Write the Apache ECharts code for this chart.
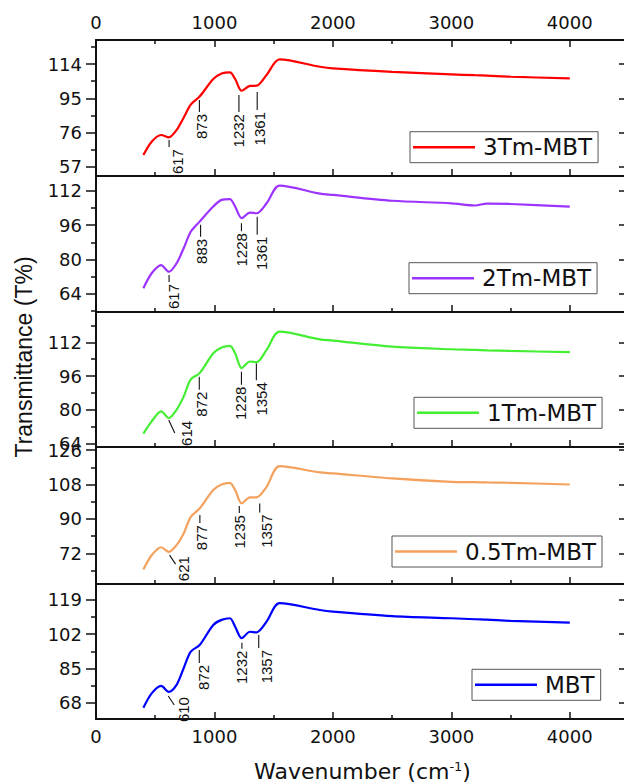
<!DOCTYPE html>
<html>
<head>
<meta charset="utf-8">
<script src="https://cdn.jsdelivr.net/npm/echarts@6/dist/echarts.min.js"></script>
<style>
  html, body { margin: 0; padding: 0; background: #fff; }
  #chart { width: 624px; height: 783px; }
</style>
</head>
<body>
<div id="chart"></div>
<script>
// wavenumber (cm-1) shared by every spectrum
const wavenumber = [400, 470, 550, 615, 680, 740, 800, 875, 990, 1060, 1130, 1175, 1230, 1300, 1356, 1440, 1550, 1890, 2000, 2500, 3000, 3200, 3300, 3500, 4000]

// transmittance (T%), top panel first
const t3Tm = [63.6, 71.0, 74.7, 73.4, 77.4, 84.3, 91.5, 96.0, 105.7, 108.8, 109.4, 105.7, 99.2, 101.9, 102.0, 107.9, 116.6, 112.5, 111.6, 109.7, 108.3, 107.8, 107.6, 107.0, 106.0]
const t2Tm = [66.6, 73.6, 77.4, 74.3, 78.2, 85.2, 92.9, 97.6, 104.6, 107.7, 108.1, 104.6, 99.2, 101.8, 101.5, 106.1, 114.3, 110.6, 110.0, 107.3, 106.1, 105.1, 106.0, 105.8, 104.6]
const t1Tm = [68.8, 74.6, 79.3, 76.2, 80.1, 86.3, 94.5, 97.4, 106.8, 109.5, 110.3, 106.8, 99.8, 102.9, 102.6, 108.4, 117.0, 113.4, 112.8, 109.9, 108.7, 108.4, 108.2, 107.9, 107.3]
const t05Tm = [63.6, 71.0, 75.2, 72.8, 76.3, 82.4, 91.1, 95.5, 105.1, 108.0, 108.9, 105.1, 98.1, 101.3, 101.3, 106.8, 117.6, 114.3, 113.8, 111.2, 109.4, 109.2, 109.1, 108.9, 108.0]
const tMBT = [65.5, 72.6, 76.3, 73.4, 76.8, 85.1, 93.3, 96.6, 106.6, 109.1, 109.9, 105.7, 100.0, 103.2, 102.9, 108.2, 117.4, 114.0, 113.2, 111.0, 109.9, 109.4, 109.2, 108.6, 107.7]

const names = ['3Tm-MBT', '2Tm-MBT', '1Tm-MBT', '0.5Tm-MBT', 'MBT']
const values = [t3Tm, t2Tm, t1Tm, t05Tm, tMBT]

// tick labels
const xTicks = [0, 1000, 2000, 3000, 4000]
const yTicks = [
  [57, 76, 95, 114],
  [64, 80, 96, 112],
  [64, 80, 96, 112],
  [72, 90, 108, 126],
  [68, 85, 102, 119]
]

// marked bands: wavenumber and the transmittance where the leader starts
const bands = [
  [617, 873, 1232, 1361],
  [617, 883, 1228, 1361],
  [614, 872, 1228, 1354],
  [621, 877, 1235, 1357],
  [610, 872, 1232, 1357]
]
const bandY = [
  [71.9, 94.1, 96.8, 98.5],
  [72.8, 96.1, 96.9, 99.9],
  [75.3, 95.7, 98.1, 102.1],
  [71.1, 92.0, 96.7, 98.1],
  [71.3, 94.2, 97.8, 101.6]
]

// layout
const colors = ['#ff0000', '#9d33ff', '#44ee33', '#f4a15d', '#0000ff']
const yRange = [[52.0, 127.3], [55.6, 118.8], [62.5, 126.3], [56.0, 127.6], [59.9, 126.9]]
const gridTop = [40, 176, 312, 447, 584]
const gridHeight = [136, 136, 135, 137, 135]
const legendPos = [[410, 131.7], [409, 262.7], [414, 397.3], [392, 536], [472, 669.3]]
// leader line: [dx, length, diagonal], label x offset
const bandLayout = [
  [[0, 7, 0, 8.5], [0, 12, 0, 2], [-3, 17, 0, -3], [0, 18, 0, 2.5]],
  [[0, 7, 0, 4.5], [0, 12, 0, 1], [0, 8, 0, 0], [0, 18, 0, 4]],
  [[0, 13, 1, 18], [0, 13, 0, 2.5], [0, 13, 0, -1], [0, 17, 0, 5.5]],
  [[0, 9, 1, 14], [0, 8, 0, 1.5], [-3, 7, 0, -3], [3, 9, 0, 9.5]],
  [[0, 9, 1, 15], [0, 13, 0, 4], [0, 6, 0, 0], [2, 13, 0, 9.5]]
]

const font = 'DejaVu Sans'
const ink = '#111'
const plain = function (v) { return String(v) }

function minors(ticks, range) {
  const step = ticks[1] - ticks[0]
  const out = []
  for (let v = ticks[0] - step / 2; v <= range[1]; v += step) {
    if (v >= range[0]) out.push(v)
  }
  return out
}

const grids = [], xAxes = [], yAxes = [], series = [], legends = []
const xMinor = [500, 1500, 2500, 3500, 4500]

for (let i = 0; i < 5; i++) {
  grids.push({ left: 96, width: 533, top: gridTop[i], height: gridHeight[i], outerBoundsMode: 'none' })

  const xBase = {
    type: 'value', gridIndex: i, min: 0, max: 4500,
    splitLine: { show: false },
    axisLine: { show: true, onZero: false, lineStyle: { color: ink, width: 2 } }
  }
  // bottom
  xAxes.push(Object.assign({}, xBase, {
    position: 'bottom',
    axisTick: { inside: true, length: 7, customValues: xTicks, lineStyle: { color: ink, width: 1.5 } },
    axisLabel: { show: i === 4, customValues: xTicks, formatter: plain, margin: 8, fontSize: 18, fontFamily: font, color: ink }
  }))
  xAxes.push(Object.assign({}, xBase, {
    position: 'bottom',
    axisLine: { show: false, onZero: false },
    axisTick: { inside: true, length: 4, customValues: xMinor, lineStyle: { color: ink, width: 1.5 } },
    axisLabel: { show: false }
  }))
  // top
  xAxes.push(Object.assign({}, xBase, {
    position: 'top',
    axisTick: { show: i === 0, inside: true, length: 7, customValues: xTicks, lineStyle: { color: ink, width: 1.5 } },
    axisLabel: { show: i === 0, customValues: xTicks, formatter: plain, margin: 9, fontSize: 18, fontFamily: font, color: ink }
  }))
  xAxes.push(Object.assign({}, xBase, {
    position: 'top',
    axisLine: { show: false, onZero: false },
    axisTick: { show: i === 0, inside: true, length: 4, customValues: xMinor, lineStyle: { color: ink, width: 1.5 } },
    axisLabel: { show: false }
  }))

  const yBase = {
    type: 'value', gridIndex: i, min: yRange[i][0], max: yRange[i][1],
    splitLine: { show: false },
    axisLine: { show: true, onZero: false, lineStyle: { color: ink, width: 2 } }
  }
  const ym = minors(yTicks[i], yRange[i])
  yAxes.push(Object.assign({}, yBase, {
    position: 'left',
    axisTick: { inside: false, length: 10, customValues: yTicks[i], lineStyle: { color: ink, width: 1.5 } },
    axisLabel: { customValues: yTicks[i], formatter: plain, margin: 14, fontSize: 18, fontFamily: font, color: ink }
  }))
  yAxes.push(Object.assign({}, yBase, {
    position: 'left',
    axisLine: { show: false, onZero: false },
    axisTick: { inside: false, length: 5, customValues: ym, lineStyle: { color: ink, width: 1.5 } },
    axisLabel: { show: false }
  }))
  yAxes.push(Object.assign({}, yBase, {
    position: 'right',
    axisTick: { inside: true, length: 10, customValues: yTicks[i], lineStyle: { color: ink, width: 1.5 } },
    axisLabel: { show: false }
  }))
  yAxes.push(Object.assign({}, yBase, {
    position: 'right',
    axisLine: { show: false, onZero: false },
    axisTick: { inside: true, length: 5, customValues: ym, lineStyle: { color: ink, width: 1.5 } },
    axisLabel: { show: false }
  }))

  series.push({
    name: names[i],
    type: 'line',
    xAxisIndex: 4 * i,
    yAxisIndex: 4 * i,
    data: wavenumber.map((w, k) => [w, values[i][k]]),
    showSymbol: false,
    symbol: 'none',
    smooth: 0.3,
    color: colors[i],
    lineStyle: { color: colors[i], width: 2.2 },
    animation: false
  })

  legends.push({
    data: [names[i]],
    left: legendPos[i][0],
    top: legendPos[i][1],
    icon: 'rect',
    itemWidth: 62,
    itemHeight: 2.5,
    padding: [4, 6, 4, 3],
    borderColor: '#555',
    borderWidth: 1,
    borderRadius: 0,
    backgroundColor: '#fff',
    selectedMode: false,
    textStyle: { fontSize: 23, fontFamily: font, color: ink, padding: [0, 0, 0, 3] }
  })
}

const chart = echarts.init(document.getElementById('chart'), null, { renderer: 'svg' })
chart.setOption({
  animation: false,
  backgroundColor: '#fff',
  grid: grids,
  xAxis: xAxes,
  yAxis: yAxes,
  legend: legends,
  series: series
})

// band labels with leader lines, placed through each panel's axes
const graphics = []
for (let i = 0; i < 5; i++) {
  bands[i].forEach((wn, k) => {
    const p = chart.convertToPixel({ seriesIndex: i }, [wn, bandY[i][k]])
    const [lx, len, diag, tx] = bandLayout[i][k]
    const x = p[0] + lx, y = p[1]
    let textTop
    if (diag) {
      graphics.push({ type: 'line', shape: { x1: x, y1: y, x2: x + 6, y2: y + len }, style: { stroke: ink, lineWidth: 1.1 } })
      textTop = y + 1
    } else {
      graphics.push({ type: 'line', shape: { x1: x, y1: y, x2: x, y2: y + len }, style: { stroke: ink, lineWidth: 1.1 } })
      textTop = y + len + 2
    }
    graphics.push({
      type: 'text', x: p[0] + tx, y: textTop, rotation: Math.PI / 2,
      style: { text: String(wn), fontSize: 15, fontFamily: 'Liberation Sans', fill: ink, align: 'right', verticalAlign: 'middle' }
    })
  })
}
graphics.push({
  type: 'text', x: 24, y: 357, rotation: Math.PI / 2,
  style: { text: 'Transmittance (T%)', fontSize: 23, fontFamily: 'Liberation Sans', fill: ink, align: 'center', verticalAlign: 'middle' }
})
graphics.push({
  type: 'text', x: 362.5, y: 771,
  style: {
    text: '{a|Wavenumber (cm}{s|-1}{a|)}',
    align: 'center', verticalAlign: 'middle',
    rich: {
      a: { fontSize: 22, fontFamily: font, fill: ink, lineHeight: 22 },
      s: { fontSize: 13, fontFamily: font, fill: ink, verticalAlign: 'top', lineHeight: 13 }
    }
  }
})
chart.setOption({ graphic: graphics })

window.addEventListener('resize', function () {
  chart.resize()
})
</script>
</body>
</html>
